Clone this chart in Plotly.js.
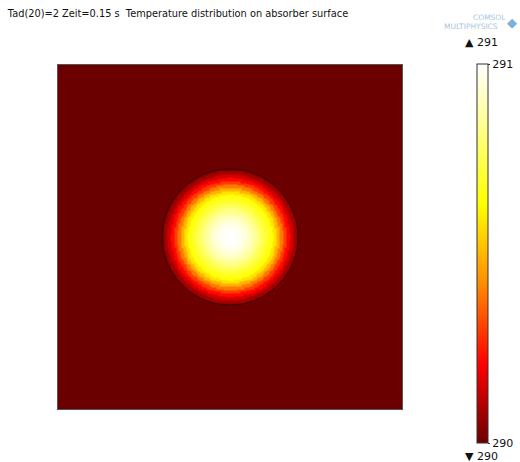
<!DOCTYPE html>
<html>
<head>
<meta charset="utf-8">
<script src="https://cdn.plot.ly/plotly-3.0.1.min.js"></script>
<style>html,body{margin:0;padding:0;background:#fff;}#chart{width:520px;height:462px;}</style>
</head>
<body>
<div id="chart"></div>
<script>
// Radial temperature profile (r as fraction of disk radius)
const radialPosition = [0.00,0.05,0.10,0.15,0.20,0.25,0.30,0.35,0.40,0.45,0.50,0.55,0.60,0.65,0.70,0.75,0.80,0.85,0.90,0.95,1.00];
const radialTemperature = [291.00,290.997,290.99,290.98,290.96,290.93,290.90,290.86,290.82,290.77,290.72,290.68,290.645,290.58,290.49,290.39,290.30,290.22,290.14,290.08,290.03];
const ambientTemperature = 290.0;
const diskCenter = [0.5, 0.5];
const diskRadius = 0.198;
const domainSize = [1, 1];
const colorTicks = [290, 291];
const colorTickLabels = ['290', '291'];
const rangeMax = 291, rangeMin = 290;
const titleText = 'Tad(20)=2 Zeit=0.15 s  Temperature distribution on absorber surface';

// Build the grid the heatmap needs from the profile (nearest radial sample)
const N = 240;
const z = [];
const step = radialPosition[1] - radialPosition[0];
for (let j = 0; j < N; j++) {
  const row = [];
  const y = (j + 0.5) / N * domainSize[1];
  for (let i = 0; i < N; i++) {
    const x = (i + 0.5) / N * domainSize[0];
    const r = Math.hypot(x - diskCenter[0], y - diskCenter[1]) / diskRadius;
    if (r > 1) { row.push(ambientTemperature); continue; }
    const k = Math.min(radialPosition.length - 1, Math.round(r / step));
    row.push(radialTemperature[k]);
  }
  z.push(row);
}

const colorscale = [
  [0.00, '#6b0000'],
  [0.21, '#ff0000'],
  [0.42, '#ff8c00'],
  [0.63, '#ffff00'],
  [1.00, '#ffffff']
];

const trace = {
  type: 'heatmap',
  z: z,
  x0: 0.5 / N * domainSize[0], dx: domainSize[0] / N,
  y0: 0.5 / N * domainSize[1], dy: domainSize[1] / N,
  zmin: rangeMin, zmax: rangeMax,
  colorscale: colorscale,
  zsmooth: 'best',
  hoverinfo: 'skip',
  colorbar: {
    thickness: 11, thicknessmode: 'pixels',
    len: 379, lenmode: 'pixels',
    xref: 'container', x: 477 / 520, xanchor: 'left', xpad: 0,
    y: (409 - 64) / 344, yanchor: 'top', ypad: 0,
    outlinewidth: 1, outlinecolor: '#333',
    tickmode: 'array', tickvals: colorTicks, ticktext: colorTickLabels,
    ticks: 'outside', ticklen: 2, tickcolor: '#333', tickwidth: 1,
    ticklabelpad: 4,
    tickfont: {family: 'DejaVu Sans', size: 11, color: '#111'},
    borderwidth: 0
  }
};

const axisCommon = {
  range: [0, 1], showgrid: false, zeroline: false, showticklabels: false,
  ticks: '', showline: true, mirror: true, linecolor: '#555', linewidth: 1,
  fixedrange: true
};

const layout = {
  width: 520, height: 462,
  margin: {l: 58, r: 118, t: 65, b: 53},
  paper_bgcolor: '#fff', plot_bgcolor: '#fff',
  title: {text: titleText, x: 0.015, xanchor: 'left', y: 0.97, yanchor: 'middle',
          font: {family: 'DejaVu Sans', size: 9.8, color: '#111'}},
  xaxis: Object.assign({}, axisCommon),
  yaxis: Object.assign({}, axisCommon),
  shapes: [
    {type: 'circle', xref: 'x', yref: 'y',
     x0: diskCenter[0] - diskRadius, x1: diskCenter[0] + diskRadius,
     y0: diskCenter[1] - diskRadius, y1: diskCenter[1] + diskRadius,
     line: {color: '#3a0000', width: 1}}
  ],
  annotations: [
    {xref: 'paper', yref: 'paper', x: (463 - 58) / 344, y: (409 - 42) / 344, xanchor: 'left', yanchor: 'middle',
     text: '▲ ' + colorTickLabels[1], showarrow: false,
     font: {family: 'DejaVu Sans', size: 11, color: '#111'}},
    {xref: 'paper', yref: 'paper', x: (463 - 58) / 344, y: (409 - 456) / 344, xanchor: 'left', yanchor: 'middle',
     text: '▼ ' + colorTickLabels[0], showarrow: false,
     font: {family: 'DejaVu Sans', size: 11, color: '#111'}},
    {xref: 'paper', yref: 'paper', x: (489 - 58) / 344, y: (409 - 18) / 344, xanchor: 'center', yanchor: 'middle',
     text: 'COMSOL', showarrow: false,
     font: {family: 'DejaVu Sans', size: 7.5, color: '#a9c6dc'}},
    {xref: 'paper', yref: 'paper', x: (471 - 58) / 344, y: (409 - 26) / 344, xanchor: 'center', yanchor: 'middle',
     text: 'MULTIPHYSICS', showarrow: false,
     font: {family: 'DejaVu Sans', size: 7.5, color: '#a9c6dc'}},
    {xref: 'paper', yref: 'paper', x: (512 - 58) / 344, y: (409 - 22) / 344, xanchor: 'center', yanchor: 'middle',
     text: '◆', showarrow: false,
     font: {family: 'DejaVu Sans', size: 13, color: '#7fb0d8'}}
  ]
};

Plotly.newPlot('chart', [trace], layout, {displayModeBar: false, staticPlot: true});
</script>
</body>
</html>
